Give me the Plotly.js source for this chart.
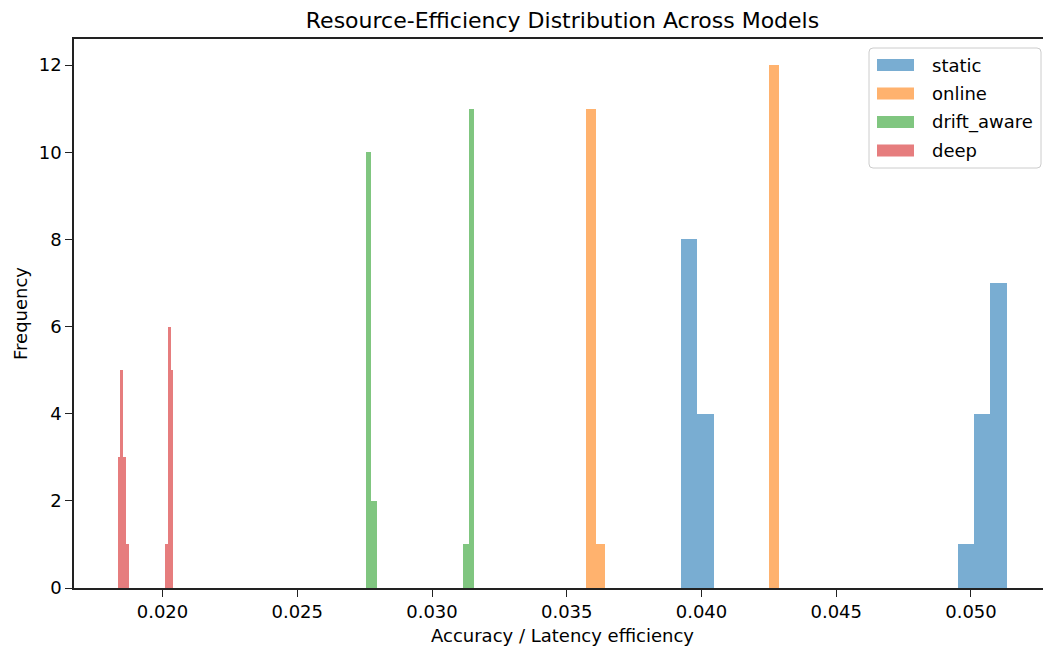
<!DOCTYPE html>
<html>
<head>
<meta charset="utf-8">
<script src="https://cdn.plot.ly/plotly-3.0.1.min.js"></script>
<style>
  html, body { margin: 0; padding: 0; overflow: hidden; background: #fff; }
  #chart { width: 1051px; height: 646px; }
</style>
</head>
<body>
<div id="chart"></div>
<script>
// ---- Data (histogram counts per series, 20 bins each) ----
const seriesNames = ["static", "online", "drift_aware", "deep"];

const staticBinStart = 0.039239;
const staticBinWidth = 0.00060425;
const staticCounts = [8, 4, 0, 0, 0, 0, 0, 0, 0, 0, 0, 0, 0, 0, 0, 0, 0, 1, 4, 7];

const onlineBinStart = 0.035714;
const onlineBinWidth = 0.0003581;
const onlineCounts = [11, 1, 0, 0, 0, 0, 0, 0, 0, 0, 0, 0, 0, 0, 0, 0, 0, 0, 0, 12];

const driftBinStart = 0.027551;
const driftBinWidth = 0.00020095;
const driftCounts = [10, 2, 0, 0, 0, 0, 0, 0, 0, 0, 0, 0, 0, 0, 0, 0, 0, 0, 1, 11];

const deepBinStart = 0.018338;
const deepBinWidth = 0.00010315;
const deepCounts = [3, 5, 3, 1, 0, 0, 0, 0, 0, 0, 0, 0, 0, 0, 0, 0, 0, 1, 6, 5];

const xTickVals = [0.020, 0.025, 0.030, 0.035, 0.040, 0.045, 0.050];
const yTickVals = [0, 2, 4, 6, 8, 10, 12];

// ---- Styling ----
const colors = ["rgba(31,119,180,0.6)", "rgba(255,127,14,0.6)", "rgba(44,160,44,0.6)", "rgba(214,39,40,0.6)"];
const FONT = "DejaVu Sans, Liberation Sans, sans-serif";
const W = 1051, H = 646;
const M = { l: 74, r: 0, t: 39, b: 58 };
const plotW = W - M.l - M.r, plotH = H - M.t - M.b;

function centers(start, width, n) {
  const out = [];
  for (let i = 0; i < n; i++) out.push(start + (i + 0.5) * width);
  return out;
}

const specs = [
  [staticBinStart, staticBinWidth, staticCounts],
  [onlineBinStart, onlineBinWidth, onlineCounts],
  [driftBinStart, driftBinWidth, driftCounts],
  [deepBinStart, deepBinWidth, deepCounts]
];

const traces = specs.map((s, k) => ({
  type: "bar",
  name: seriesNames[k],
  x: centers(s[0], s[1], s[2].length),
  y: s[2],
  width: s[2].map(() => s[1]),
  marker: { color: colors[k], line: { width: 0 } },
  showlegend: false,
  hovertemplate: seriesNames[k] + ": %{x:.4f}, %{y}<extra></extra>"
}));

// ---- Custom matplotlib-style legend (pixel positions -> paper) ----
const px = x => (x - M.l) / plotW;
const py = y => (H - M.b - y) / plotH;

function roundedRect(x0, y0, x1, y1, r) {
  const X = v => px(v), Y = v => py(v);
  return "M" + X(x0 + r) + "," + Y(y0) +
    " L" + X(x1 - r) + "," + Y(y0) +
    " Q" + X(x1) + "," + Y(y0) + " " + X(x1) + "," + Y(y0 + r) +
    " L" + X(x1) + "," + Y(y1 - r) +
    " Q" + X(x1) + "," + Y(y1) + " " + X(x1 - r) + "," + Y(y1) +
    " L" + X(x0 + r) + "," + Y(y1) +
    " Q" + X(x0) + "," + Y(y1) + " " + X(x0) + "," + Y(y1 - r) +
    " L" + X(x0) + "," + Y(y0 + r) +
    " Q" + X(x0) + "," + Y(y0) + " " + X(x0 + r) + "," + Y(y0) + " Z";
}

const shapes = [{
  type: "path", xref: "paper", yref: "paper",
  path: roundedRect(869, 48, 1041, 168, 4),
  fillcolor: "rgba(255,255,255,0.8)",
  line: { color: "#cccccc", width: 1 }
}];
const annotations = [];
const rowY = [65, 93.5, 122, 150.5];
seriesNames.forEach((n, k) => {
  shapes.push({
    type: "rect", xref: "paper", yref: "paper",
    x0: px(877), x1: px(914), y0: py(rowY[k] + 6), y1: py(rowY[k] - 6),
    fillcolor: colors[k], line: { width: 0 }
  });
  annotations.push({
    xref: "paper", yref: "paper", x: px(930), y: py(rowY[k]),
    xanchor: "left", yanchor: "middle", showarrow: false,
    text: n, font: { family: FONT, size: 18, color: "#000" }
  });
});

const layout = {
  width: W, height: H,
  margin: M,
  paper_bgcolor: "#fff", plot_bgcolor: "#fff",
  barmode: "overlay", bargap: 0,
  font: { family: FONT, size: 18, color: "#000" },
  title: {
    text: "Resource-Efficiency Distribution Across Models",
    font: { family: FONT, size: 22, color: "#000" },
    x: 0.5, xref: "paper", xanchor: "center",
    y: 1 - 20 / H, yref: "container", yanchor: "middle"
  },
  xaxis: {
    range: [0.016716, 0.052969],
    tickvals: xTickVals,
    tickformat: ".3f",
    ticks: "outside", ticklen: 7, tickwidth: 1.3, tickcolor: "#222",
    showline: true, linecolor: "#222", linewidth: 1.5, mirror: true,
    showgrid: false, zeroline: false,
    tickfont: { family: FONT, size: 18, color: "#000" },
    title: { text: "Accuracy / Latency efficiency", font: { family: FONT, size: 18, color: "#000" }, standoff: 8 }
  },
  yaxis: {
    range: [0, 12.6],
    tickvals: yTickVals,
    ticks: "outside", ticklen: 7, tickwidth: 1.3, tickcolor: "#222",
    showline: true, linecolor: "#222", linewidth: 1.5, mirror: false,
    showgrid: false, zeroline: false,
    tickfont: { family: FONT, size: 18, color: "#000" },
    title: { text: "Frequency", font: { family: FONT, size: 18, color: "#000" }, standoff: 6 }
  },
  shapes: shapes,
  annotations: annotations
};

Plotly.newPlot("chart", traces, layout, { displayModeBar: false, staticPlot: false });
</script>
</body>
</html>
